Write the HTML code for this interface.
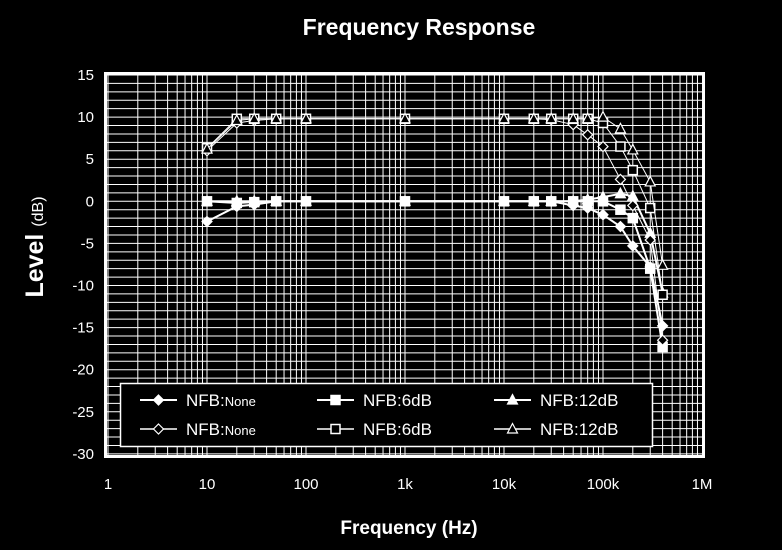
<!DOCTYPE html>
<html><head><meta charset="utf-8"><style>
html,body{margin:0;padding:0;background:#000;}
svg{display:block;font-family:"Liberation Sans",sans-serif;}
</style></head><body>
<svg id="chart" width="782" height="550" viewBox="0 0 782 550">
<text x="419" y="35" fill="#fff" font-size="23" font-weight="bold" text-anchor="middle">Frequency Response</text>
<text x="409" y="534" fill="#fff" font-size="19" font-weight="bold" text-anchor="middle">Frequency (Hz)</text>
<text transform="translate(43,247) rotate(-90)" fill="#fff" font-size="25" font-weight="bold" text-anchor="middle">Level <tspan font-size="16" font-weight="normal">(dB)</tspan></text>
<g id="grid"></g>
<g id="ticks"></g>
<rect x="105.5" y="73.5" width="598" height="383" fill="none" stroke="#fff" stroke-width="3"/>
<g id="series"></g>
<g id="legend"></g>
</svg>
<script>
const freqs = [10,20,30,50,100,1000,10000,20000,30000,50000,70000,100000,150000,200000,300000,400000];
const nfbNoneFilled = [-2.4,-0.6,-0.4,0,0,0,0,0,0,-0.5,-0.8,-1.6,-3.0,-5.3,-7.8,-14.8];
const nfb6Filled = [0,-0.2,-0.1,0,0,0,0,0,0,0,0,0,-1.0,-2.0,-8.0,-17.3];
const nfb12Filled = [0,0,0,0,0,0,0,0,0,0,0.2,0.5,0.9,0.6,-3.8,-10.9];
const nfbNoneOpen = [6.0,9.3,9.6,9.8,9.8,9.8,9.8,9.8,9.7,9.1,7.9,6.5,2.6,-0.5,-4.6,-16.5];
const nfb6Open = [6.3,9.8,9.8,9.8,9.8,9.8,9.8,9.8,9.8,9.8,9.8,9.3,6.5,3.7,-0.8,-11.1];
const nfb12Open = [6.2,9.6,9.8,9.8,9.8,9.8,9.8,9.8,9.8,9.8,9.8,10.0,8.6,6.1,2.3,-7.6];
const xTickLabels = ["1","10","100","1k","10k","100k","1M"];
const yTickValues = [15,10,5,0,-5,-10,-15,-20,-25,-30];
const legendLabels = [["NFB:","None"],["NFB:6dB",""],["NFB:12dB",""],["NFB:","None"],["NFB:6dB",""],["NFB:12dB",""]];

const NS="http://www.w3.org/2000/svg";
const X0=108, DEC=99, Y15=75, DBPX=8.42;
function xs(f){return X0+DEC*Math.log10(f);}
function ys(v){return Y15+(15-v)*DBPX;}
function mk(tag,attrs,parent){const e=document.createElementNS(NS,tag);for(const k in attrs)e.setAttribute(k,attrs[k]);parent.appendChild(e);return e;}

const grid=document.getElementById('grid');
for(let d=-30;d<=15;d++){
  const l=mk('line',{x1:105,x2:704,y1:ys(d),y2:ys(d),stroke:'#fff','stroke-width':1},grid);
  
  
}
for(let e=0;e<6;e++){for(let m=1;m<10;m++){
  const x=xs(m*Math.pow(10,e));
  const l=mk('line',{x1:x,x2:x,y1:73,y2:457,stroke:'#fff','stroke-width':1},grid);
  
  
}}
const ticks=document.getElementById('ticks');
xTickLabels.forEach((t,i)=>{
  const e=mk('text',{x:xs(Math.pow(10,i)),y:489,fill:'#fff','font-size':15,'text-anchor':'middle'},ticks);
  e.textContent=t;
  
  
});
yTickValues.forEach(v=>{
  const e=mk('text',{x:94,y:ys(v)+5,fill:'#fff','font-size':15,'text-anchor':'end'},ticks);
  e.textContent=String(v);
  
  
});

function marker(type,filled,x,y,g){
  const fill=filled?'#fff':'#000';
  let e;
  if(type==='d') e=mk('polygon',{points:`${x},${y-5} ${x+5},${y} ${x},${y+5} ${x-5},${y}`,fill,stroke:'#fff','stroke-width':1.2},g);
  else if(type==='s') e=mk('rect',{x:x-4.5,y:y-4.5,width:9,height:9,fill,stroke:'#fff','stroke-width':1.5},g);
  else e=mk('polygon',{points:`${x},${y-5.5} ${x+5},${y+4} ${x-5},${y+4}`,fill,stroke:'#fff','stroke-width':1.2},g);
  
  
}
const seriesG=document.getElementById('series');
const defs=[[nfbNoneFilled,'d',true,'nfb-none-filled'],[nfb6Filled,'s',true,'nfb-6db-filled'],[nfb12Filled,'t',true,'nfb-12db-filled'],[nfbNoneOpen,'d',false,'nfb-none-open'],[nfb6Open,'s',false,'nfb-6db-open'],[nfb12Open,'t',false,'nfb-12db-open']];
defs.forEach(([vals,type,filled,name])=>{
  const g=mk('g',{},seriesG);
  
  
  const pts=vals.map((v,i)=>xs(freqs[i])+','+ys(v)).join(' ');
  const pl=mk('polyline',{points:pts,fill:'none',stroke:'#fff','stroke-width':filled?2:1},g);
  
  
  vals.forEach((v,i)=>marker(type,filled,xs(freqs[i]),ys(v),g));
});

const lg=document.getElementById('legend');
const box=mk('rect',{x:120.5,y:383.5,width:532,height:63,fill:'#000',stroke:'#fff','stroke-width':1.5},lg);


const colX=[140,317,494], rowY=[400,429];
legendLabels.forEach((lab,i)=>{
  const c=i%3, r=Math.floor(i/3);
  const g=mk('g',{},lg);
  
  
  const x=colX[c], y=rowY[r];
  mk('line',{x1:x,x2:x+37,y1:y,y2:y,stroke:'#fff','stroke-width':r===0?2:1.5},g);
  marker(['d','s','t'][c],r===0,x+18.5,y,g);
  const t=mk('text',{x:x+46,y:y+6,fill:'#fff','font-size':17},g);
  t.textContent=lab[0];
  if(lab[1]){const s=mk('tspan',{'font-size':13},t);s.textContent=lab[1];}
});
</script>
</body></html>
